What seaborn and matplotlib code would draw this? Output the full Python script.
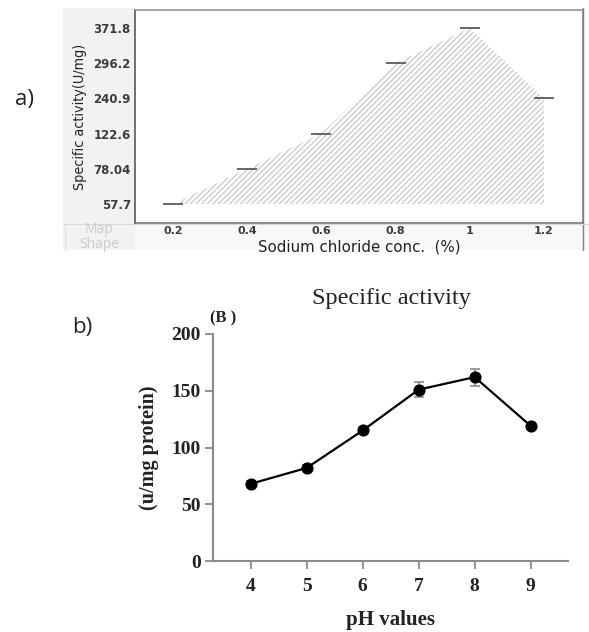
import matplotlib
matplotlib.use("Agg")
import matplotlib.pyplot as plt
import seaborn as sns
import pandas as pd
from matplotlib.lines import Line2D
from matplotlib.patches import Rectangle

# (a) specific activity vs. sodium chloride concentration
nacl_conc = [0.2, 0.4, 0.6, 0.8, 1.0, 1.2]
nacl_activity = [57.7, 78.04, 122.6, 296.2, 371.8, 240.9]

# (b) specific activity vs. pH
ph_values = [4, 5, 6, 7, 8, 9]
ph_activity = [68, 82, 115, 151, 162, 119]
ph_error = [2.5, 2.5, 3.0, 6.3, 7.5, 2.5]

sns.set_theme(style="white")
plt.rcParams["hatch.linewidth"] = 0.9

W, H = 589, 632
fig = plt.figure(figsize=(W / 100, H / 100), dpi=100)


def fx(px):
    return px / W


def fy(py):
    return 1 - py / H


def hline(x0, x1, y, color, lw=1.0):
    fig.add_artist(Line2D([fx(x0), fx(x1)], [fy(y), fy(y)], transform=fig.transFigure,
                          color=color, lw=lw))


def vline(x, y0, y1, color, lw=1.0):
    fig.add_artist(Line2D([fx(x), fx(x)], [fy(y0), fy(y1)], transform=fig.transFigure,
                          color=color, lw=lw))


SANS = ["Open Sans", "DejaVu Sans"]
SERIF = ["Liberation Serif", "DejaVu Serif"]

# ---------------- panel (a) ----------------
# light grey header column and footer strip of the table-like frame
fig.add_artist(Rectangle((fx(63), fy(250)), fx(135) - fx(63), fy(8) - fy(250),
                         transform=fig.transFigure, facecolor="#f2f2f2", edgecolor="none", zorder=0))
fig.add_artist(Rectangle((fx(135), fy(250)), fx(589) - fx(135), fy(223) - fy(250),
                         transform=fig.transFigure, facecolor="#f8f8f8", edgecolor="none", zorder=0))

ax_a = fig.add_axes([fx(135), fy(223), fx(583) - fx(135), fy(10) - fy(223)])
ax_a.set_facecolor("white")

levels = sorted(nacl_activity)
rank = [levels.index(v) for v in nacl_activity]
df_a = pd.DataFrame({"conc": nacl_conc, "level": rank})

ax_a.fill_between(df_a["conc"], df_a["level"], 0, facecolor="none", hatch="//////",
                  edgecolor="#c8c8c8", linewidth=0)
sns.scatterplot(data=df_a, x="conc", y="level", marker="_", s=190,
                linewidth=1.3, color="#5a5a5a", ax=ax_a, zorder=3)

ax_a.set_xlim(0.098, 1.305)
ax_a.set_ylim(-0.54, 5.51)
ax_a.set_yticks(range(len(levels)))
ax_a.set_yticklabels([str(v) for v in levels])
ax_a.set_xticks(nacl_conc)
ax_a.set_xticklabels([f"{v:g}" for v in nacl_conc])
ax_a.tick_params(axis="both", length=0, labelsize=8.5, labelcolor="#3c3c3c")
ax_a.tick_params(axis="y", pad=3)
ax_a.tick_params(axis="x", pad=2, labelsize=8)
for lab in ax_a.get_xticklabels() + ax_a.get_yticklabels():
    lab.set_family(["DejaVu Sans"])
    lab.set_fontweight("bold")
ax_a.set_xlabel("")
ax_a.set_ylabel("Specific activity(U/mg)", fontsize=10.3, family=["Liberation Sans Narrow", "DejaVu Sans"],
                fontstretch="condensed", color="#222222", labelpad=5)
for side, col in {"left": "#4a4a4a", "bottom": "#6a6a6a", "top": "#8a8a8a", "right": "#7a7a7a"}.items():
    ax_a.spines[side].set_visible(True)
    ax_a.spines[side].set_color(col)
    ax_a.spines[side].set_linewidth(1.1)

# x-axis title sits in the footer strip, just under the tick labels
fig.text(fx(359), fy(251), "Sodium chloride conc.  (%)", ha="center", va="baseline",
         fontsize=10.8, family=["DejaVu Sans"], color="#222222")

vline(583, 8, 250, "#808080", 1.0)
hline(63, 589, 224, "#d8d8d8", 0.8)
vline(65, 224, 250, "#e0e0e0", 0.8)

fig.text(fx(99), fy(230), "Map", ha="center", va="center", fontsize=10,
         family=SANS, color="#cccccc")
fig.text(fx(99), fy(244), "Shape", ha="center", va="center", fontsize=10,
         family=SANS, color="#cccccc")
fig.text(fx(15), fy(100), "a)", ha="left", va="center", fontsize=16,
         family=SANS, color="#222222")

# ---------------- panel (b) ----------------
ax_b = fig.add_axes([fx(213), fy(561), fx(568) - fx(213), fy(334) - fy(561)])
df_b = pd.DataFrame({"pH": ph_values, "activity": ph_activity, "err": ph_error})

ax_b.errorbar(df_b["pH"], df_b["activity"], yerr=df_b["err"], fmt="none",
              ecolor="#8c8c8c", elinewidth=1.2, capsize=3.5, capthick=1.2, zorder=1)
sns.lineplot(data=df_b, x="pH", y="activity", marker="o", markersize=8,
             markeredgecolor="black", color="black", linewidth=1.6, ax=ax_b, zorder=2)

ax_b.set_xlim(3.327, 9.666)
ax_b.set_ylim(0, 200)
ax_b.set_xticks(ph_values)
ax_b.set_yticks([0, 50, 100, 150, 200])
sns.despine(ax=ax_b)
for side in ("left", "bottom"):
    ax_b.spines[side].set_color("#8a8a8a")
    ax_b.spines[side].set_linewidth(1.5)
ax_b.tick_params(axis="both", direction="out", length=6, width=1.3, color="#8a8a8a",
                 labelsize=14, labelcolor="#222222", pad=3, left=True, bottom=True)
ax_b.tick_params(axis="x", pad=6)
for lab in ax_b.get_xticklabels() + ax_b.get_yticklabels():
    lab.set_family(SERIF)
    lab.set_fontweight("bold")
ax_b.set_xlabel("pH values", fontsize=15, family=SERIF, fontweight="bold",
                color="#222222", labelpad=11)
ax_b.set_ylabel("(u/mg protein)", fontsize=14.5, family=SERIF, fontweight="bold",
                color="#222222", labelpad=9)

fig.text(fx(391), fy(298), "Specific activity", ha="center", va="center", fontsize=17.5,
         family=SERIF, color="#222222")
fig.text(fx(210), fy(318), "(B )", ha="left", va="center", fontsize=12,
         family=SERIF, fontweight="bold", color="#222222")
fig.text(fx(72), fy(328), "b)", ha="left", va="center", fontsize=16,
         family=SANS, color="#222222")

fig.savefig("out.png", dpi=100)
